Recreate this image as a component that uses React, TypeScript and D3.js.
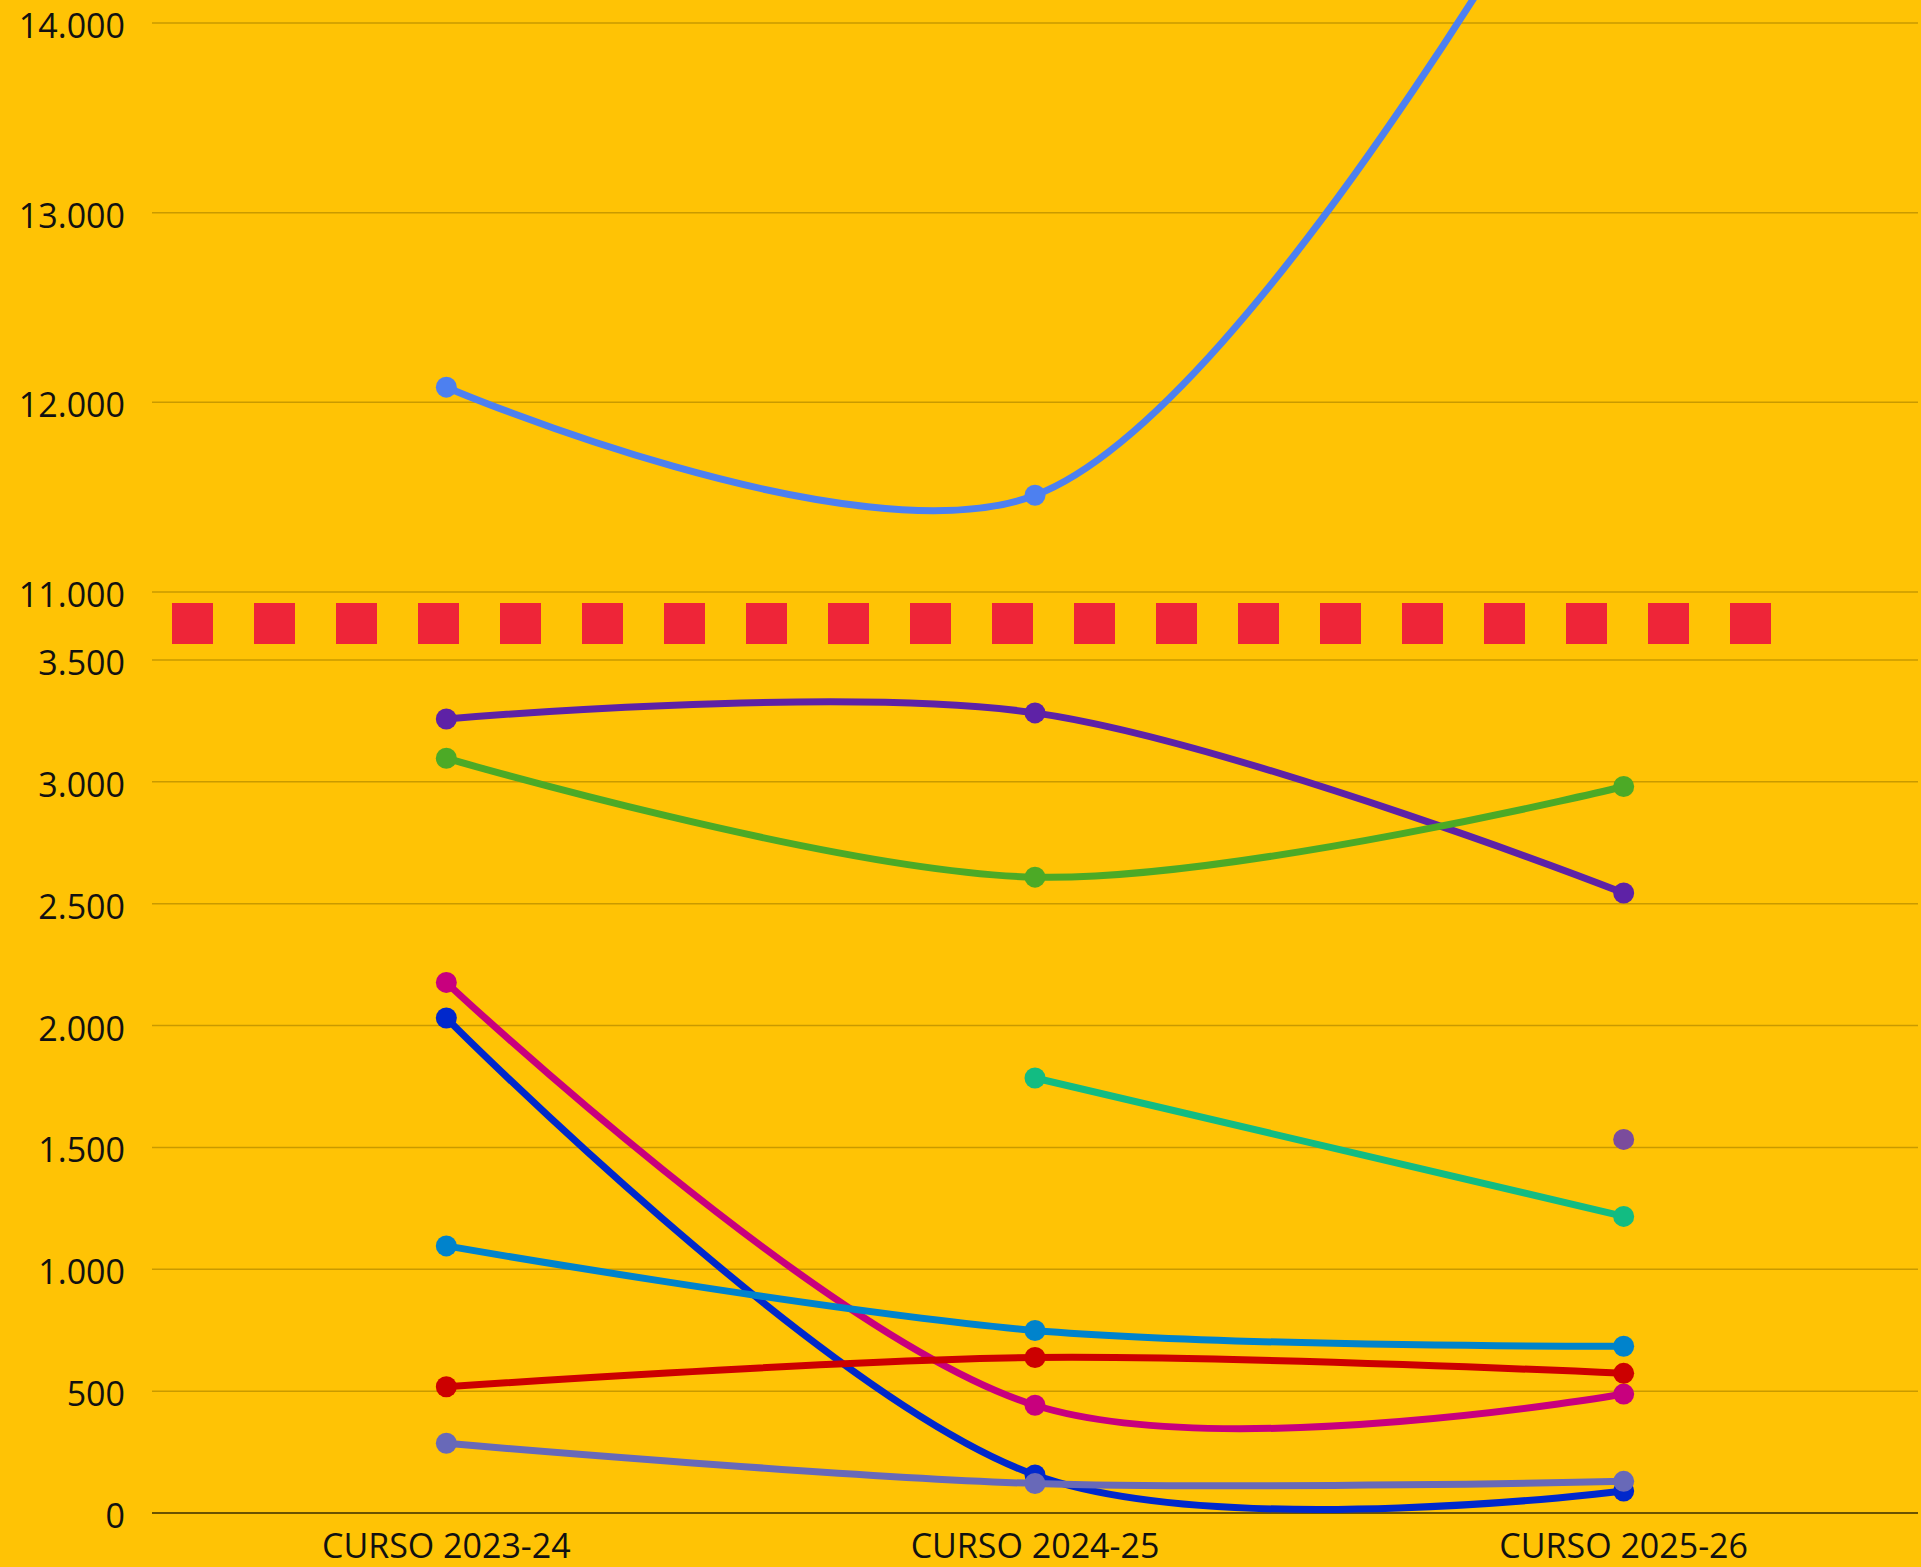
import React from "react";
import * as d3 from "d3";

const W = 1921;
const H = 1567;

const categories = ["CURSO 2023-24", "CURSO 2024-25", "CURSO 2025-26"];

const upperTicks = [11000, 12000, 13000, 14000];
const lowerTicks = [0, 500, 1000, 1500, 2000, 2500, 3000, 3500];

// upper panel series
const seriesBlueTop = [12080, 11510, 15450];

// lower panel series
const seriesPurple = [3258, 3283, 2544];
const seriesGreen = [3097, 2609, 2981];
const seriesMagenta = [2177, 442, 488];
const seriesDarkBlue = [2031, 156, 90];
const seriesTeal = [null, 1785, 1217];
const seriesViolet = [null, null, 1533];
const seriesCyan = [1096, 749, 684];
const seriesRed = [518, 638, 573];
const seriesLavender = [286, 121, 130];

const upperSeries = [{ name: "top", values: seriesBlueTop, color: "#4D80F0" }];
const lowerSeries = [
  { name: "purple", values: seriesPurple, color: "#5E22A6" },
  { name: "green", values: seriesGreen, color: "#4CAA26" },
  { name: "magenta", values: seriesMagenta, color: "#C8007E" },
  { name: "darkblue", values: seriesDarkBlue, color: "#0028CC" },
  { name: "teal", values: seriesTeal, color: "#12BC82" },
  { name: "violet", values: seriesViolet, color: "#7B4C9C" },
  { name: "cyan", values: seriesCyan, color: "#0083CC" },
  { name: "red", values: seriesRed, color: "#CC0000" },
  { name: "lavender", values: seriesLavender, color: "#6869B8" },
];

const fmt = (v: number) => d3.format(",")(v).replace(/,/g, ".");

export default function App() {
  const plotLeft = 152;
  const plotRight = 1918;
  const x = d3.scaleBand<string>().domain(categories).range([plotLeft, plotRight]).padding(0);
  const cx = (c: string) => (x(c) as number) + x.bandwidth() / 2;

  const yUp = d3.scaleLinear().domain([11000, 14000]).range([592, 23]);
  const yLo = d3.scaleLinear().domain([0, 3500]).range([1513, 660]);

  const makeLine = (y: d3.ScaleLinear<number, number>) =>
    d3
      .line<{ c: string; v: number | null }>()
      .defined((d) => d.v != null)
      .x((d) => cx(d.c))
      .y((d) => y(d.v as number))
      .curve(d3.curveCatmullRom.alpha(0.5));

  const lineUp = makeLine(yUp);
  const lineLo = makeLine(yLo);

  const toPts = (vals: (number | null)[]) => categories.map((c, i) => ({ c, v: vals[i] }));

  const fontFamily = "'Open Sans', 'Noto Sans', sans-serif";

  const nSquares = 20;
  const sqSize = 41;
  const sqStep = 82;
  const sqStart = 172;

  return (
    <svg
      width={W}
      height={H}
      style={{ position: "absolute", left: 0, top: 0, display: "block" }}
      fontFamily={fontFamily}
    >
      <defs>
        <clipPath id="clipUp">
          <rect x={0} y={0} width={W} height={yUp(11000) + 1} />
        </clipPath>
        <clipPath id="clipLo">
          <rect x={0} y={yLo(3500) - 20} width={W} height={H} />
        </clipPath>
      </defs>
      <rect x={0} y={0} width={W} height={H} fill="#FFC305" />

      {/* gridlines */}
      {upperTicks.map((t) => (
        <g key={"u" + t}>
          <line x1={plotLeft} x2={plotRight} y1={yUp(t)} y2={yUp(t)} stroke="#C99A00" strokeWidth={1.5} />
          <text x={125} y={yUp(t) + 2} textAnchor="end" dominantBaseline="central" fontSize={34} fill="#111">
            {fmt(t)}
          </text>
        </g>
      ))}
      {lowerTicks.map((t) => (
        <g key={"l" + t}>
          <line
            x1={plotLeft}
            x2={plotRight}
            y1={yLo(t)}
            y2={yLo(t)}
            stroke={t === 0 ? "#6B5200" : "#C99A00"}
            strokeWidth={t === 0 ? 2 : 1.5}
          />
          <text x={125} y={yLo(t) + 2} textAnchor="end" dominantBaseline="central" fontSize={34} fill="#111">
            {fmt(t)}
          </text>
        </g>
      ))}

      {/* axis break */}
      {d3.range(nSquares).map((i) => (
        <rect key={"sq" + i} x={sqStart + i * sqStep} y={603} width={sqSize} height={sqSize} fill="#EE2538" />
      ))}

      {/* x labels */}
      {categories.map((c) => (
        <text key={c} x={cx(c)} y={1545} textAnchor="middle" dominantBaseline="central" fontSize={34} fill="#111">
          {c}
        </text>
      ))}

      {/* upper series */}
      <g clipPath="url(#clipUp)">
        {upperSeries.map((s) => (
          <g key={s.name}>
            <path d={lineUp(toPts(s.values)) || ""} fill="none" stroke={s.color} strokeWidth={7} />
            {toPts(s.values)
              .filter((d) => d.v != null)
              .map((d) => (
                <circle key={d.c} cx={cx(d.c)} cy={yUp(d.v as number)} r={10.5} fill={s.color} />
              ))}
          </g>
        ))}
      </g>

      {/* lower series */}
      <g clipPath="url(#clipLo)">
        {lowerSeries.map((s) => (
          <g key={s.name}>
            <path d={lineLo(toPts(s.values)) || ""} fill="none" stroke={s.color} strokeWidth={7} />
            {toPts(s.values)
              .filter((d) => d.v != null)
              .map((d) => (
                <circle key={d.c} cx={cx(d.c)} cy={yLo(d.v as number)} r={10.5} fill={s.color} />
              ))}
          </g>
        ))}
      </g>
    </svg>
  );
}
